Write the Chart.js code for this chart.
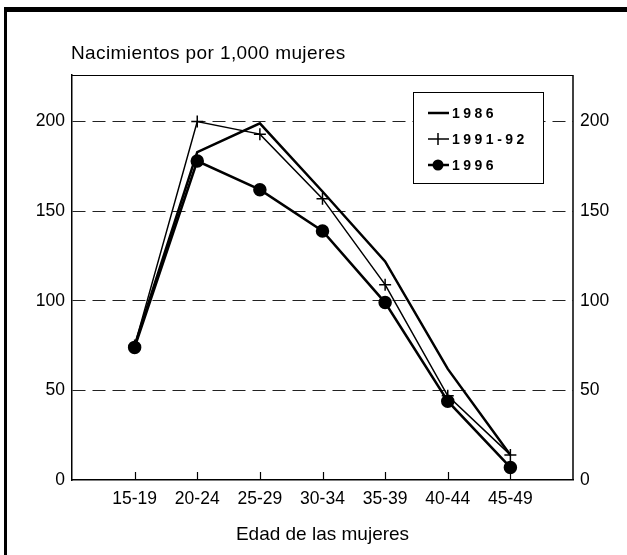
<!DOCTYPE html>
<html>
<head>
<meta charset="utf-8">
<script src="https://cdn.jsdelivr.net/npm/chart.js@4.4.1/dist/chart.umd.min.js"></script>
<style>
  html, body { margin: 0; padding: 0; background: #fff; }
  #wrap { position: relative; width: 627px; height: 555px; }
</style>
</head>
<body>
<div id="wrap"><canvas id="chart"></canvas></div>
<script>
const ageGroups = ['15-19', '20-24', '25-29', '30-34', '35-39', '40-44', '45-49'];
const rate1986 = [75, 183, 199, 161, 122, 62, 14];
const rate1991 = [75, 200, 193, 157, 109, 47, 14];
const rate1996 = [74, 178, 162, 139, 99, 44, 7];
const yTicks = [0, 50, 100, 150, 200];

const yTitle = 'Nacimientos por 1,000 mujeres';
const xTitle = 'Edad de las mujeres';
const font = 'Liberation Sans, Arial, Helvetica, sans-serif';

// empty slot at each end so the curves sit inside the frame
const labels = [''].concat(ageGroups, ['']);
const pad = (arr) => [null].concat(arr, [null]);

const decor = {
    id: 'decor',
    beforeDraw(chart) {
        const { ctx, width, height } = chart;
        ctx.save();
        ctx.fillStyle = '#fff';
        ctx.fillRect(0, 0, width, height);
        ctx.fillStyle = '#000';
        ctx.fillRect(4, 7, width - 4, 5);
        ctx.fillRect(4, 7, 3, height - 7);
        ctx.restore();
    },
    afterDraw(chart) {
        const { ctx, chartArea: a } = chart;
        const x = chart.scales.x;
        ctx.save();
        // frame of the plot
        ctx.strokeStyle = '#000';
        ctx.lineWidth = 1;
        ctx.beginPath();
        ctx.moveTo(a.left, a.top + 0.5);
        ctx.lineTo(a.right, a.top + 0.5);
        ctx.stroke();
        ctx.lineWidth = 1.5;
        ctx.beginPath();
        ctx.moveTo(a.right, a.top);
        ctx.lineTo(a.right, a.bottom);
        ctx.stroke();
        // inner ticks on the x axis
        ctx.lineWidth = 1.2;
        ageGroups.forEach((g, i) => {
            const px = Math.round(x.getPixelForValue(i + 1)) + 0.5;
            ctx.beginPath();
            ctx.moveTo(px, a.bottom);
            ctx.lineTo(px, a.bottom - 8);
            ctx.stroke();
        });
        // y title
        ctx.fillStyle = '#000';
        ctx.font = '19px ' + font;
        ctx.letterSpacing = '0.4px';
        ctx.textBaseline = 'alphabetic';
        ctx.textAlign = 'left';
        ctx.fillText(yTitle, a.left - 1, 59);

        // legend
        const bx = 413, by = 92, bw = 130, bh = 91;
        ctx.fillStyle = '#fff';
        ctx.fillRect(bx, by, bw, bh);
        ctx.lineWidth = 1;
        ctx.strokeStyle = '#000';
        ctx.strokeRect(bx + 0.5, by + 0.5, bw, bh);
        ctx.font = 'bold 14px ' + font;
        ctx.letterSpacing = '3.5px';
        ctx.textBaseline = 'middle';
        chart.data.datasets.forEach((ds, i) => {
            const ry = 113 + i * 26;
            ctx.strokeStyle = '#000';
            ctx.fillStyle = '#000';
            ctx.lineWidth = ds.borderWidth;
            ctx.beginPath();
            ctx.moveTo(428, ry);
            ctx.lineTo(449, ry);
            ctx.stroke();
            if (ds.pointStyle === 'cross') {
                ctx.lineWidth = 1.5;
                ctx.beginPath();
                ctx.moveTo(438, ry - 6);
                ctx.lineTo(438, ry + 6);
                ctx.stroke();
            } else if (ds.pointRadius > 0) {
                ctx.beginPath();
                ctx.arc(438, ry, ds.pointRadius, 0, Math.PI * 2);
                ctx.fill();
            }
            ctx.fillText(ds.label, 452, ry + 1);
        });
        ctx.restore();
    }
};

const ctx = document.getElementById('chart').getContext('2d');
new Chart(ctx, {
    type: 'line',
    data: {
        labels,
        datasets: [
            {
                label: '1986',
                data: pad(rate1986),
                borderColor: '#000',
                backgroundColor: '#000',
                borderWidth: 2.5,
                pointRadius: 0,
                pointStyle: 'circle',
            },
            {
                label: '1991-92',
                data: pad(rate1991),
                borderColor: '#000',
                backgroundColor: '#000',
                borderWidth: 1.5,
                pointStyle: 'cross',
                pointRadius: 6,
                pointBorderWidth: 1.5,
            },
            {
                label: '1996',
                data: pad(rate1996),
                borderColor: '#000',
                backgroundColor: '#000',
                borderWidth: 2.5,
                pointStyle: 'circle',
                pointRadius: 5.5,
            },
        ],
    },
    options: {
        responsive: true,
        maintainAspectRatio: false,
        animation: false,
        layout: { padding: { top: 75, left: 0, right: 0, bottom: 0 } },
        plugins: {
            legend: { display: false },
            tooltip: { enabled: false },
        },
        scales: {
            x: {
                offset: false,
                grid: { display: false, drawTicks: false },
                border: { display: true, color: '#000', width: 1.5 },
                ticks: {
                    color: '#000',
                    font: { family: font, size: 17.5 },
                    padding: 9,
                    maxRotation: 0,
                    autoSkip: false,
                },
                title: {
                    display: true,
                    text: xTitle,
                    color: '#000',
                    font: { family: font, size: 19 },
                    padding: { top: 0, bottom: 9 },
                },
                afterFit: (s) => { s.height = 75; },
            },
            y: {
                position: 'left',
                min: 0,
                max: 226,
                afterBuildTicks: (s) => { s.ticks = yTicks.map((v) => ({ value: v })); },
                grid: {
                    drawTicks: false,
                    color: (c) => (c.tick && c.tick.value === 0 ? 'rgba(0,0,0,0)' : '#222'),
                    lineWidth: 1,
                },
                border: { display: true, color: '#000', width: 1.5, dash: [13, 7] },
                ticks: {
                    color: '#000',
                    font: { family: font, size: 17.5 },
                    padding: 7,
                },
                afterFit: (s) => { s.width = 72; },
            },
            y2: {
                position: 'right',
                min: 0,
                max: 226,
                afterBuildTicks: (s) => { s.ticks = yTicks.map((v) => ({ value: v })); },
                grid: { display: false, drawTicks: false },
                border: { display: false },
                ticks: {
                    color: '#000',
                    font: { family: font, size: 17.5 },
                    padding: 7,
                },
                afterFit: (s) => { s.width = 54; },
            },
        },
    },
    plugins: [decor],
});
</script>
</body>
</html>
